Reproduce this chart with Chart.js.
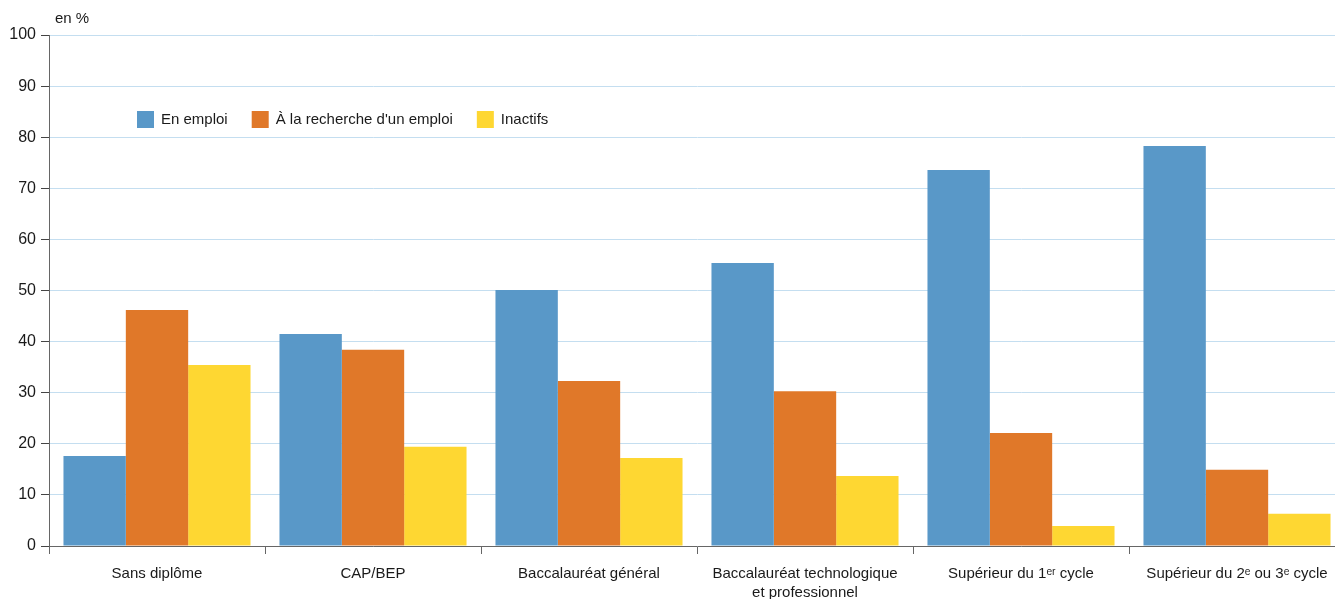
<!DOCTYPE html>
<html lang="fr">
<head>
<meta charset="utf-8">
<script src="https://cdn.jsdelivr.net/npm/chart.js@4"></script>
<style>
  html, body { margin: 0; padding: 0; background: #fff; overflow: hidden; }
  #wrap { width: 1345px; height: 599px; position: relative; }
</style>
</head>
<body>
<div id="wrap"><canvas id="chart"></canvas></div>
<script>
const categories = [
    'Sans diplôme',
    'CAP/BEP',
    'Baccalauréat général',
    ['Baccalauréat technologique', 'et professionnel'],
    'Supérieur du 1ᵉʳ cycle',
    'Supérieur du 2ᵉ ou 3ᵉ cycle'
];
const enEmploi = [17.6, 41.5, 50.1, 55.4, 73.6, 78.3];
const aLaRecherche = [46.2, 38.4, 32.3, 30.3, 22.1, 14.9];
const inactifs = [35.4, 19.4, 17.2, 13.7, 3.9, 6.3];
const yTicks = [0, 10, 20, 30, 40, 50, 60, 70, 80, 90, 100];

const FONT = "'Liberation Sans', Arial, sans-serif";

// legend drawn inside the plot area + "en %" label
const extras = {
    id: 'extras',
    afterDraw(chart) {
        const ctx = chart.ctx;
        const area = chart.chartArea;
        ctx.save();
        ctx.fillStyle = '#1a1a1a';
        ctx.font = '15px ' + FONT;
        ctx.textBaseline = 'middle';
        ctx.textAlign = 'left';
        ctx.fillText('en %', area.left + 6, 19);

        let x = 137;
        const y = 119;
        chart.data.datasets.forEach(ds => {
            ctx.fillStyle = ds.backgroundColor;
            ctx.fillRect(x, y - 8, 17, 17);
            ctx.fillStyle = '#1a1a1a';
            ctx.fillText(ds.label, x + 24, y + 1);
            x += 24 + ctx.measureText(ds.label).width + 24;
        });
        ctx.restore();
    }
};

const ctx = document.getElementById('chart').getContext('2d');
new Chart(ctx, {
    type: 'bar',
    data: {
        labels: categories,
        datasets: [{
            label: 'En emploi',
            data: enEmploi,
            backgroundColor: '#5998c8'
        }, {
            label: 'À la recherche d\'un emploi',
            data: aLaRecherche,
            backgroundColor: '#e07829'
        }, {
            label: 'Inactifs',
            data: inactifs,
            backgroundColor: '#fed732'
        }]
    },
    options: {
        responsive: true,
        maintainAspectRatio: false,
        animation: false,
        layout: { padding: { top: 35, right: 0, left: 0, bottom: 0 } },
        datasets: {
            bar: { categoryPercentage: 0.866, barPercentage: 1.0 }
        },
        plugins: {
            legend: { display: false },
            tooltip: { enabled: false }
        },
        scales: {
            x: {
                border: { display: true, color: '#666', width: 1 },
                grid: {
                    offset: true,
                    drawOnChartArea: false,
                    drawTicks: true,
                    tickLength: 8,
                    tickColor: '#666'
                },
                ticks: {
                    color: '#1a1a1a',
                    padding: 10,
                    maxRotation: 0,
                    autoSkip: false,
                    font: { family: FONT, size: 15, lineHeight: 1.3 }
                },
                afterFit: function(scale) { scale.height = 53; }
            },
            y: {
                min: 0,
                max: 100,
                border: { display: true, color: '#666', width: 1 },
                grid: {
                    color: '#c4def0',
                    lineWidth: 1,
                    tickLength: 8,
                    tickColor: '#444'
                },
                afterBuildTicks: function(scale) {
                    scale.ticks = yTicks.map(v => ({ value: v }));
                },
                ticks: {
                    color: '#1a1a1a',
                    padding: 5,
                    font: { family: FONT, size: 16 }
                },
                afterFit: function(scale) { scale.width = 49; }
            }
        }
    },
    plugins: [extras]
});
</script>
</body>
</html>
